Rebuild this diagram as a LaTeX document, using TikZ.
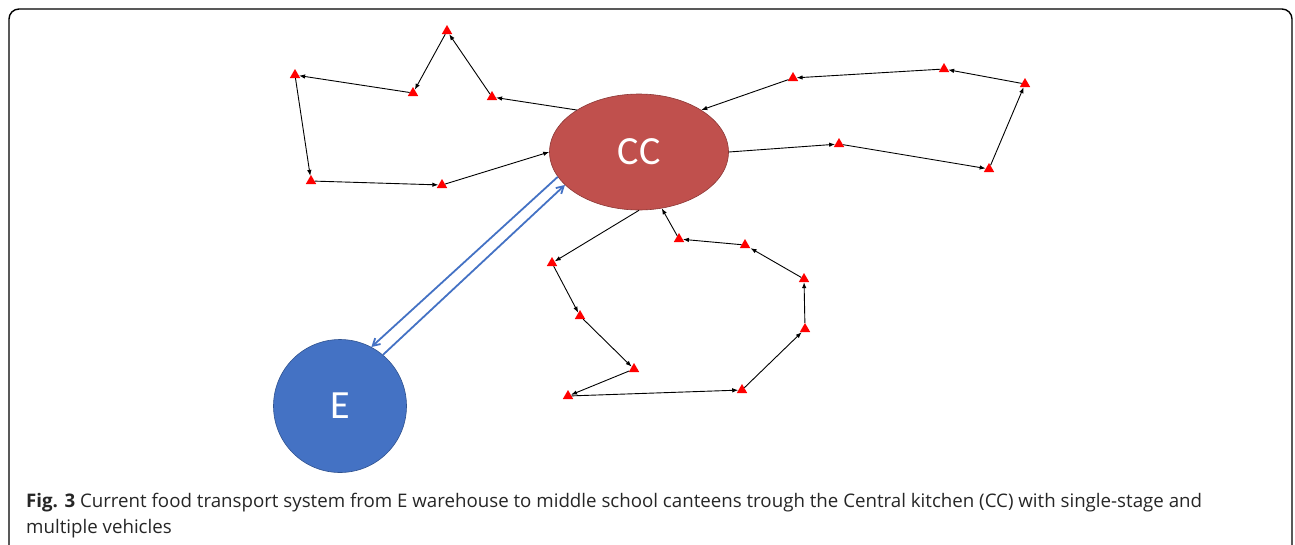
\documentclass[tikz,border=0pt]{standalone}
\usepackage{fontspec}
\setmainfont{Open Sans}
\newfontfamily\officefont{Carlito}
\usetikzlibrary{shapes.geometric,arrows.meta}
\definecolor{ccred}{HTML}{C0504D}
\definecolor{ccedge}{HTML}{8C3836}
\definecolor{eblue}{HTML}{4472C4}
\definecolor{eedge}{HTML}{2F528F}

\begin{document}
\begin{tikzpicture}[x=1pt,y=-1pt,
    school/.style={regular polygon,regular polygon sides=3,fill=red,inner sep=0pt,minimum size=12pt},
    hub/.style={ellipse,fill=ccred,draw=ccedge,line width=0.6pt,minimum width=179pt,minimum height=116pt,
      text=white,font=\officefont\fontsize{40}{40}\selectfont},
    depot/.style={circle,fill=eblue,draw=eedge,line width=0.6pt,minimum size=133pt,
      text=white,font=\officefont\fontsize{40}{40}\selectfont},
    route/.style={->,>={Latex[length=6pt,width=4.5pt]},line width=0.9pt},
    supply/.style={-{Straight Barb[length=7pt,width=8pt]},draw=eblue,line width=1.8pt},
    caption/.style={anchor=base west,inner sep=0pt,text=black!85,font=\fontsize{18.7}{22}\selectfont}]
    \useasboundingbox (0,0) rectangle (1295,544);
    \clip (0,0) rectangle (1295,544);
    \draw[line width=1.4pt,rounded corners=10pt] (9,9) rectangle (1292,580);

    \node[hub] (CC) at (639,152) {CC};
    \node[depot] (E) at (340,406) {E};

    % schools
    \node[school] (t1) at (492,97) {};
    \node[school] (t2) at (447,31) {};
    \node[school] (t3) at (413,93) {};
    \node[school] (t4) at (295,75) {};
    \node[school] (t5) at (311,181) {};
    \node[school] (t6) at (442,185) {};
    \node[school] (r1) at (839,144) {};
    \node[school] (r2) at (989,169) {};
    \node[school] (r3) at (1025,84) {};
    \node[school] (r4) at (944,69) {};
    \node[school] (r5) at (793,78) {};
    \node[school] (b1) at (552,263) {};
    \node[school] (b2) at (580,316) {};
    \node[school] (b3) at (634,369) {};
    \node[school] (b4) at (568,396) {};
    \node[school] (b5) at (742,390) {};
    \node[school] (b6) at (805,329) {};
    \node[school] (b7) at (804,279) {};
    \node[school] (b8) at (745,245) {};
    \node[school] (b9) at (679,239) {};

    % vehicle tours
    \path[route] (CC.146) edge (t1) (t1) edge (t2) (t2) edge (t3) (t3) edge (t4)
    (t4) edge (t5) (t5) edge (t6) (t6) edge (CC.west);
    \path[route] (CC.east) edge (r1) (r1) edge (r2) (r2) edge (r3) (r3) edge (r4)
    (r4) edge (r5) (r5) edge (CC.34);
    \path[route] (CC.south) edge (b1) (b1) edge (b2) (b2) edge (b3) (b3) edge (b4)
    (b4) edge (b5) (b5) edge (b6) (b6) edge (b7) (b7) edge (b8) (b8) edge (b9)
    (b9) edge (CC.292);

    \draw[supply] (CC.197) -- (E.62);
    \draw[supply] (E.50) -- (CC.204);

    \node[caption] (cap1) at (26,507) {\textbf{Fig. 3} Current food transport system from E warehouse to middle school canteens trough the Central kitchen (CC) with single-stage and};
    \node[caption] (cap2) at (26,533) {multiple vehicles};
\end{tikzpicture}
\end{document}
